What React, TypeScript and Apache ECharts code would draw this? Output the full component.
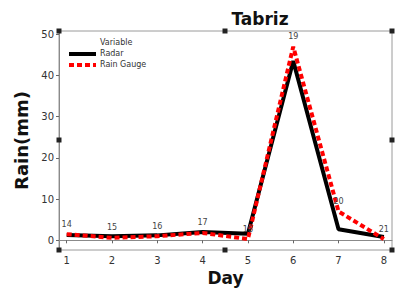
import React, { useEffect, useRef } from "react";
import * as echarts from "echarts";

const days = [1, 2, 3, 4, 5, 6, 7, 8];
const radar = [1.3, 1.0, 1.2, 2.0, 1.6, 43.5, 2.7, 0.8];
const rainGauge = [1.5, 0.6, 1.0, 1.8, 0.3, 47, 7, 0.3];
const pointLabels = ["14", "15", "16", "17", "18", "19", "20", "21"];
const yTicks = [0, 10, 20, 30, 40, 50];

export default function App() {
  const ref = useRef<HTMLDivElement>(null);
  useEffect(() => {
    document.body.style.margin = "0";
    const chart = echarts.init(ref.current!, null, { renderer: "svg" });
    const font = "DejaVu Sans";
    const handles = [
      [59, 31], [225, 31], [392, 31],
      [59, 140], [392, 140],
      [59, 250], [225, 250], [392, 250],
    ];
    chart.setOption({
      animation: false,
      backgroundColor: "#fff",
      title: {
        text: "Tabriz",
        left: 255,
        top: 5,
        textAlign: "center",
        textStyle: { fontFamily: font, fontWeight: "bold", fontSize: 17, color: "#111" },
      },
      grid: {
        left: 59, top: 31, right: 3, bottom: 42,
        outerBoundsMode: "none",
        containLabel: false,
        show: true, borderColor: "#9a9a9a", borderWidth: 1, backgroundColor: "#fff",
      },
      xAxis: {
        type: "value",
        min: 0.83,
        max: 8.18,
        name: "Day",
        nameLocation: "middle",
        nameGap: 19,
        nameTextStyle: { fontFamily: font, fontWeight: "bold", fontSize: 17, color: "#111", verticalAlign: "top" },
        axisLine: { show: true, lineStyle: { color: "#8a8a8a" } },
        axisTick: { show: true, length: 3, customValues: days, lineStyle: { color: "#666" } },
        axisLabel: { customValues: days, fontFamily: font, fontSize: 10, color: "#333", margin: 5 },
        splitLine: { show: false },
      },
      yAxis: {
        type: "value",
        min: -2.35,
        max: 50.8,
        name: "Rain(mm)",
        nameLocation: "middle",
        nameGap: 29,
        nameTextStyle: { fontFamily: font, fontWeight: "bold", fontSize: 18, color: "#111" },
        axisLine: { show: true, lineStyle: { color: "#8a8a8a" } },
        axisTick: { show: true, length: 3, customValues: yTicks, lineStyle: { color: "#666" } },
        axisLabel: { customValues: yTicks, fontFamily: font, fontSize: 10, color: "#333", margin: 5 },
        splitLine: { show: false },
      },
      legend: { show: false },
      series: [
        {
          name: "Radar",
          type: "line",
          data: days.map((d, i) => [d, radar[i]]),
          showSymbol: false,
          lineStyle: { color: "#000", width: 4 },
          itemStyle: { color: "#000" },
          z: 2,
        },
        {
          name: "Rain Gauge",
          type: "line",
          data: days.map((d, i) => [d, rainGauge[i]]),
          showSymbol: true,
          symbol: "circle",
          symbolSize: 2,
          lineStyle: { color: "#ff0000", width: 4, type: [5, 3] },
          itemStyle: { color: "rgba(255,0,0,0)" },
          label: {
            show: true,
            position: "top",
            distance: 5,
            formatter: (p: any) => pointLabels[p.dataIndex],
            fontFamily: font,
            fontSize: 8,
            color: "#444",
          },
          labelLayout: { hideOverlap: false },
          z: 3,
        },
      ],
      graphic: [
        { type: "text", left: 100, top: 38, style: { text: "Variable", fontFamily: font, fontSize: 8, fill: "#333" } },
        { type: "line", shape: { x1: 69, y1: 54, x2: 96, y2: 54 }, style: { stroke: "#000", lineWidth: 4 } },
        { type: "text", left: 100, top: 49, style: { text: "Radar", fontFamily: font, fontSize: 8, fill: "#333" } },
        { type: "line", shape: { x1: 69, y1: 65, x2: 96, y2: 65 }, style: { stroke: "#ff0000", lineWidth: 4, lineDash: [5, 3] } },
        { type: "text", left: 100, top: 60, style: { text: "Rain Gauge", fontFamily: font, fontSize: 8, fill: "#333" } },
        ...handles.map(([x, y]) => ({
          type: "rect",
          shape: { x: x - 2.5, y: y - 2.5, width: 5, height: 5 },
          style: { fill: "#222" },
          z: 10,
        })),
      ],
    });
    return () => chart.dispose();
  }, []);
  return <div ref={ref} style={{ width: 395, height: 292 }} />;
}
